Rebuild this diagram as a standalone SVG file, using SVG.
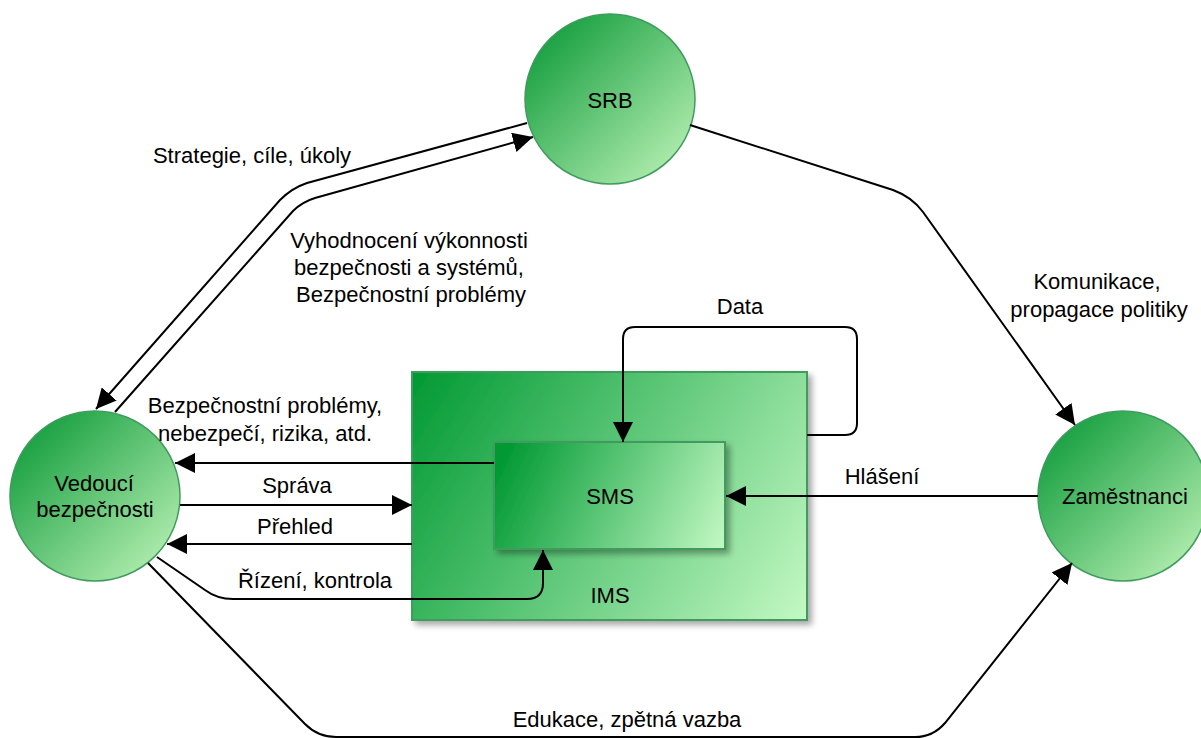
<svg xmlns="http://www.w3.org/2000/svg" width="1201" height="738" viewBox="0 0 1201 738">
  <style>
    text { font-family: "Liberation Sans", Arial, sans-serif; font-size: 22px; fill: #000; }
    .c { text-anchor: middle; }
    .node-circle { fill: url(#circleGrad); stroke: #3f9b5e; stroke-width: 1.5; }
    .node-rect { stroke: #3f9b5e; stroke-width: 2; filter: url(#shadow); }
    .link { fill: none; stroke: #000; stroke-width: 2; }
    .arrow { marker-end: url(#arrowhead); }
  </style>
  <defs>
    <linearGradient id="circleGrad" x1="0.15" y1="0.15" x2="0.85" y2="0.85">
      <stop offset="0" stop-color="#1fa346"/>
      <stop offset="1" stop-color="#a8e8a8"/>
    </linearGradient>
    <linearGradient id="imsGrad" gradientUnits="userSpaceOnUse" x1="412" y1="372" x2="807" y2="620">
      <stop offset="0" stop-color="#009933"/>
      <stop offset="1" stop-color="#c4f9c4"/>
    </linearGradient>
    <linearGradient id="smsGrad" gradientUnits="userSpaceOnUse" x1="494" y1="442" x2="725" y2="549">
      <stop offset="0.05" stop-color="#009933"/>
      <stop offset="1" stop-color="#c4f9c4"/>
    </linearGradient>
    <filter id="shadow" x="-10%" y="-10%" width="125%" height="125%">
      <feGaussianBlur in="SourceAlpha" stdDeviation="3"/>
      <feOffset dx="4" dy="4" result="blur"/>
      <feComponentTransfer><feFuncA type="linear" slope="0.35"/></feComponentTransfer>
      <feMerge><feMergeNode/><feMergeNode in="SourceGraphic"/></feMerge>
    </filter>
    <marker id="arrowhead" viewBox="0 0 20 20" refX="20" refY="10" markerWidth="20" markerHeight="20" markerUnits="userSpaceOnUse" orient="auto">
      <path d="M0,0 L20,10 L0,20 Z" fill="#000"/>
    </marker>
  </defs>

  <!-- outer system box and the safety management system inside it -->
  <g id="ims">
    <rect class="node-rect" fill="url(#imsGrad)" x="412" y="372" width="395" height="248"/>
    <text class="c" x="610" y="603">IMS</text>
  </g>
  <g id="sms">
    <rect class="node-rect" fill="url(#smsGrad)" x="494" y="442" width="231" height="107"/>
    <text class="c" x="610" y="504">SMS</text>
  </g>

  <g id="srb">
    <circle class="node-circle" cx="610" cy="99" r="85"/>
    <text class="c" x="610" y="108">SRB</text>
  </g>
  <g id="vedouci">
    <circle class="node-circle" cx="95" cy="496" r="85"/>
    <text class="c" x="94" y="491">Vedoucí</text>
    <text class="c" x="95" y="517">bezpečnosti</text>
  </g>
  <g id="zamestnanci">
    <circle class="node-circle" cx="1123" cy="496" r="85"/>
    <text class="c" x="1125" y="504">Zaměstnanci</text>
  </g>

  <g id="connectors">
    <!-- SRB -> Vedoucí -->
    <path class="link arrow" d="M527,123 L307,183 Q292,188 280,200 L96,409"/>
    <!-- Vedoucí -> SRB -->
    <path class="link arrow" d="M115,412 L293,211 Q302,202 315,198 L533,137"/>
    <!-- SRB -> Zaměstnanci -->
    <path class="link arrow" d="M690,125 L893,190 Q912,197 923,212 L1075,425"/>
    <!-- Vedoucí -> Zaměstnanci along the bottom -->
    <path class="link arrow" d="M148,563 L305,724 Q318,737 336,737 L915,737 Q933,737 945,723 L1072,563"/>
    <!-- SMS -> Vedoucí -->
    <path class="link arrow" d="M494,463 L175,463"/>
    <!-- Vedoucí -> IMS -->
    <path class="link arrow" d="M180,505 L412,505"/>
    <!-- IMS -> Vedoucí -->
    <path class="link arrow" d="M412,544 L167,544"/>
    <!-- Vedoucí -> SMS (řízení) -->
    <path class="link arrow" d="M157,557 L205,590 Q217,599 233,599 L527,599 Q543,599 543,583 L543,550"/>
    <!-- IMS -> SMS data loop -->
    <path class="link arrow" d="M807,435 L845,435 Q857,435 857,423 L857,339 Q857,327 845,327 L635,327 Q623,327 623,339 L623,442"/>
    <!-- Zaměstnanci -> SMS -->
    <path class="link arrow" d="M1038,496 L726,496"/>
  </g>

  <g id="labels">
    <text class="c" x="252" y="163">Strategie, cíle, úkoly</text>
    <text class="c" x="409" y="248">Vyhodnocení výkonnosti</text>
    <text class="c" x="409" y="275">bezpečnosti a systémů,</text>
    <text class="c" x="411" y="302">Bezpečnostní problémy</text>
    <text class="c" x="265" y="413">Bezpečnostní problémy,</text>
    <text class="c" x="265" y="441">nebezpečí, rizika, atd.</text>
    <text class="c" x="297" y="493">Správa</text>
    <text class="c" x="295" y="534">Přehled</text>
    <text class="c" x="315" y="588">Řízení, kontrola</text>
    <text class="c" x="740" y="314">Data</text>
    <text class="c" x="882" y="484">Hlášení</text>
    <text class="c" x="1097" y="289">Komunikace,</text>
    <text class="c" x="1099" y="317">propagace politiky</text>
    <text class="c" x="627" y="727">Edukace, zpětná vazba</text>
  </g>
</svg>
